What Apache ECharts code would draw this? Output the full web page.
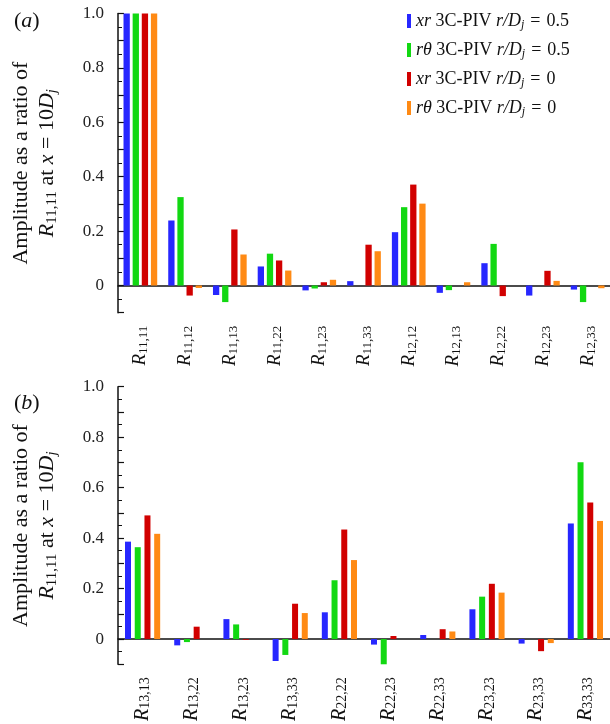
<!DOCTYPE html>
<html>
<head>
<meta charset="utf-8">
<script src="https://cdn.jsdelivr.net/npm/echarts@6/dist/echarts.min.js"></script>
<style>
  html, body { margin: 0; padding: 0; background: #fff; }
  #chart { width: 610px; height: 724px; }
</style>
</head>
<body>
<div id="chart"></div>
<script>
// subscripts of the correlation terms, panel (a) and (b)
const catsA = ['11,11', '11,12', '11,13', '11,22', '11,23', '11,33', '12,12', '12,13', '12,22', '12,23', '12,33']
const catsB = ['13,13', '13,22', '13,23', '13,33', '22,22', '22,23', '22,33', '23,23', '23,33', '33,33']

const seriesNames = ['xr 3C-PIV r/Dj = 0.5', 'rθ 3C-PIV r/Dj = 0.5', 'xr 3C-PIV r/Dj = 0', 'rθ 3C-PIV r/Dj = 0']
const legendRich = [
  '{i|xr} 3C-PIV {i|r/D}{s|j}{e|=}0.5',
  '{i|rθ} 3C-PIV {i|r/D}{s|j}{e|=}0.5',
  '{i|xr} 3C-PIV {i|r/D}{s|j}{e|=}0',
  '{i|rθ} 3C-PIV {i|r/D}{s|j}{e|=}0'
]
const colors = ['#2727ff', '#12d812', '#d10000', '#ff8a14']

// panel (a)
const xr05A = [1.0, 0.239, -0.035, 0.070, -0.018, 0.016, 0.196, -0.027, 0.082, -0.037, -0.015]
const rt05A = [1.0, 0.325, -0.061, 0.117, -0.011, 0, 0.288, -0.017, 0.153, 0, -0.061]
const xr0A = [1.0, -0.037, 0.206, 0.092, 0.012, 0.150, 0.371, 0, -0.039, 0.054, 0]
const rt0A = [1.0, -0.009, 0.114, 0.055, 0.021, 0.126, 0.301, 0.012, 0, 0.017, -0.010]

// panel (b)
const xr05B = [0.386, -0.025, 0.079, -0.087, 0.106, -0.022, 0.016, 0.118, -0.018, 0.458]
const rt05B = [0.364, -0.012, 0.058, -0.063, 0.233, -0.100, 0, 0.168, 0, 0.701]
const xr0B = [0.490, 0.049, -0.003, 0.140, 0.434, 0.012, 0.039, 0.219, -0.048, 0.541]
const rt0B = [0.417, 0, 0, 0.103, 0.313, 0, 0.030, 0.184, -0.016, 0.468]

const font = "'Liberation Serif', 'Times New Roman', serif"

const subRich = (rSize, sSize) => ({
  r: { fontFamily: font, fontStyle: 'italic', fontSize: rSize, lineHeight: 20, color: '#111' },
  s: { fontFamily: font, fontSize: sSize, lineHeight: 8, verticalAlign: 'bottom', color: '#111' }
})

const makeX = (gridIndex, cats, rSize, sSize) => ({
  type: 'category',
  gridIndex,
  data: cats,
  axisLine: { onZero: true, lineStyle: { color: '#111', width: 1.5 } },
  axisTick: { alignWithLabel: true, length: 5, lineStyle: { color: '#111', width: 2 } },
  axisLabel: {
    rotate: 90,
    margin: 13,
    interval: 0,
    formatter: (v) => `{r|R}{s|${v}}`,
    rich: subRich(rSize, sSize)
  },
  splitLine: { show: false }
})

const makeY = (gridIndex) => ({
  type: 'value',
  gridIndex,
  min: -0.1,
  max: 1.0,
  interval: 0.1,
  name: 'Amplitude as a ratio of\n{i|R}{s|11,11} at {i|x} = 10{i|D}{sj|j}',
  nameLocation: 'middle',
  nameGap: 58,
  nameTextStyle: {
    fontFamily: font,
    fontSize: 22,
    lineHeight: 26,
    color: '#111',
    rich: {
      i: { fontFamily: font, fontStyle: 'italic', fontSize: 22, color: '#111' },
      s: { fontFamily: font, fontSize: 15, lineHeight: 10, verticalAlign: 'bottom', color: '#111' },
      sj: { fontFamily: font, fontStyle: 'italic', fontSize: 15, lineHeight: 10, verticalAlign: 'bottom', color: '#111' }
    }
  },
  axisLine: { show: true, lineStyle: { color: '#111', width: 1.5 } },
  axisTick: { show: true, inside: true, length: 6, lineStyle: { color: '#111', width: 1.2 } },
  minorTick: { show: true, splitNumber: 2, length: 4, lineStyle: { color: '#111', width: 1 } },
  axisLabel: {
    margin: 14,
    fontFamily: font,
    fontSize: 17,
    color: '#222',
    formatter: (v) => {
      const k = Math.round(v * 10)
      if (k < 0 || k % 2 !== 0) return ''
      return k === 0 ? '0' : (k / 10).toFixed(1)
    }
  },
  splitLine: { show: false }
})

const makeBars = (gridIndex, lists, barWidth, barGap) => lists.map((d, i) => ({
  name: seriesNames[i],
  type: 'bar',
  xAxisIndex: gridIndex,
  yAxisIndex: gridIndex,
  data: d,
  barWidth,
  barGap,
  itemStyle: { color: colors[i] }
}))

const chart = echarts.init(document.getElementById('chart'))
chart.setOption({
  animation: false,
  backgroundColor: '#fff',
  grid: [
    { left: 118, top: 13.5, width: 500.5, height: 299.2 },
    { left: 118, top: 386.7, width: 493, height: 302 }
  ],
  legend: {
    orient: 'vertical',
    left: 402,
    top: 6,
    itemWidth: 4,
    itemHeight: 14,
    itemGap: 9,
    icon: 'rect',
    data: seriesNames,
    formatter: (name) => legendRich[seriesNames.indexOf(name)],
    textStyle: {
      fontFamily: font,
      fontSize: 18,
      lineHeight: 20,
      color: '#111',
      rich: {
        i: { fontFamily: font, fontStyle: 'italic', fontSize: 18, color: '#111' },
        s: { fontFamily: font, fontStyle: 'italic', fontSize: 12, lineHeight: 8, verticalAlign: 'bottom', color: '#111' },
        e: { fontFamily: font, fontSize: 18, padding: [0, 6], color: '#111' }
      }
    }
  },
  graphic: [
    {
      type: 'text', left: 14, top: 10,
      style: { text: '({i|a})', fontFamily: font, fontSize: 22, fill: '#111',
        rich: { i: { fontFamily: font, fontStyle: 'italic', fontSize: 22 } } }
    },
    {
      type: 'text', left: 14, top: 392,
      style: { text: '({i|b})', fontFamily: font, fontSize: 22, fill: '#111',
        rich: { i: { fontFamily: font, fontStyle: 'italic', fontSize: 22 } } }
    }
  ],
  xAxis: [makeX(0, catsA, 19, 13), makeX(1, catsB, 20, 14)],
  yAxis: [makeY(0), makeY(1)],
  series: [
    ...makeBars(0, [xr05A, rt05A, xr0A, rt0A], 6.3, '45%'),
    ...makeBars(1, [xr05B, rt05B, xr0B, rt0B], 6, '62%')
  ]
})
</script>
</body>
</html>
